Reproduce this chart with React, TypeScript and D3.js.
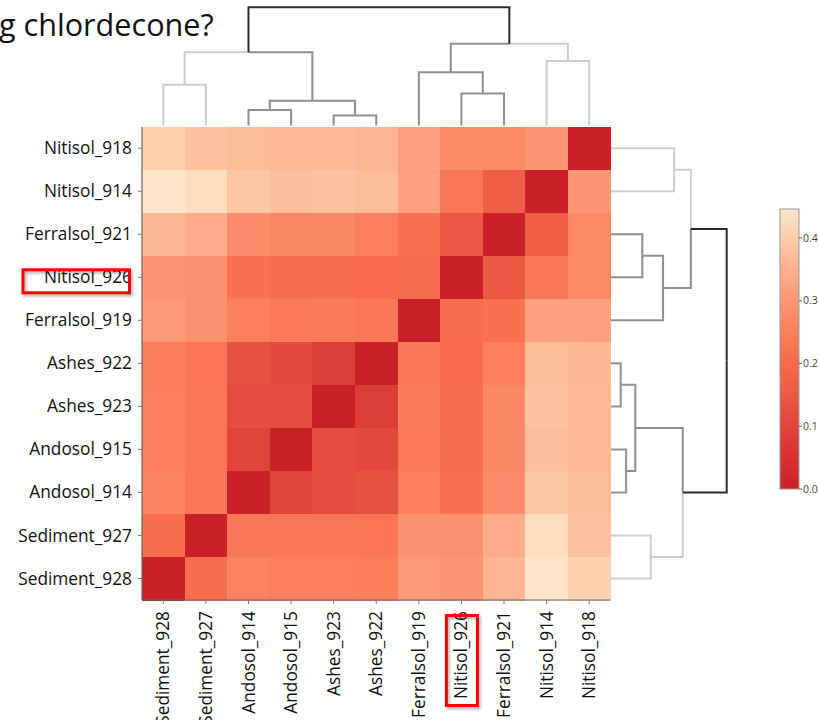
import React from "react";
import * as d3 from "d3";

// ---------- DATA ----------
const rowLabels = [
  "Nitisol_918", "Nitisol_914", "Ferralsol_921", "Nitisol_926", "Ferralsol_919",
  "Ashes_922", "Ashes_923", "Andosol_915", "Andosol_914", "Sediment_927", "Sediment_928",
];
const colLabels = [
  "Sediment_928", "Sediment_927", "Andosol_914", "Andosol_915", "Ashes_923", "Ashes_922",
  "Ferralsol_919", "Nitisol_926", "Ferralsol_921", "Nitisol_914", "Nitisol_918",
];
// distance matrix, rows & columns in colLabels order
const distS928 = [0, 0.21, 0.26, 0.25, 0.25, 0.245, 0.31, 0.3, 0.36, 0.445, 0.41];
const distS927 = [0.21, 0, 0.23, 0.23, 0.23, 0.225, 0.29, 0.29, 0.34, 0.43, 0.38];
const distA914 = [0.26, 0.23, 0, 0.1, 0.12, 0.13, 0.25, 0.22, 0.28, 0.39, 0.37];
const distA915 = [0.25, 0.23, 0.1, 0, 0.12, 0.11, 0.235, 0.21, 0.265, 0.375, 0.365];
const distAsh923 = [0.25, 0.23, 0.12, 0.12, 0, 0.08, 0.24, 0.21, 0.27, 0.38, 0.365];
const distAsh922 = [0.245, 0.225, 0.13, 0.11, 0.08, 0, 0.23, 0.205, 0.25, 0.37, 0.36];
const distF919 = [0.31, 0.29, 0.25, 0.235, 0.24, 0.23, 0, 0.21, 0.22, 0.32, 0.32];
const distN926 = [0.3, 0.29, 0.22, 0.21, 0.21, 0.205, 0.21, 0, 0.15, 0.23, 0.275];
const distF921 = [0.36, 0.34, 0.28, 0.265, 0.27, 0.25, 0.22, 0.15, 0, 0.165, 0.275];
const distN914 = [0.445, 0.43, 0.39, 0.375, 0.38, 0.37, 0.32, 0.23, 0.165, 0, 0.3];
const distN918 = [0.41, 0.38, 0.37, 0.365, 0.365, 0.36, 0.32, 0.275, 0.275, 0.3, 0];
const distRows = [distS928, distS927, distA914, distA915, distAsh923, distAsh922, distF919, distN926, distF921, distN914, distN918];

// linkage (scipy style: leaves 0..10 in colLabels order, clusters 11..)
const mergeLeft = [4, 2, 12, 7, 0, 6, 9, 15, 16, 18];
const mergeRight = [5, 3, 11, 8, 1, 14, 10, 13, 17, 19];
const mergeHeight = [0.084, 0.131, 0.21, 0.271, 0.344, 0.45, 0.546, 0.62, 0.69, 1.0];

const colorbarTicks = [0, 0.1, 0.2, 0.3, 0.4];
const colorMax = 0.446;
const titleText = "g chlordecone?";
const highlighted = "Nitisol_926";

// ---------- STYLE / LAYOUT ----------
const W = 819, H = 720;
const hm = { x0: 142, x1: 610.5, y0: 126.7, y1: 600 };
const cmapDomain = [0, 0.075, 0.15, 0.2, 0.25, 0.3, 0.35, 0.4, 0.446];
const cmapRange = ["#cb2027", "#db3b34", "#ec5a44", "#f66a4c", "#fb7f5c", "#fc9572", "#fdb08e", "#fdcca8", "#fee5cb"];
const color = d3.scaleLinear<string>().domain(cmapDomain).range(cmapRange).interpolate(d3.interpolateRgb).clamp(true);
const LIGHT = "#cdcdcd", MED = "#8e8e8e", ROOT = "#2b2b2b";
const FONT = "'Open Sans', sans-serif";
const LABEL_SIZE = 17.3;

type Seg = { d: string; c: string };

function buildDendro(posOfLeaf: (i: number) => number, hToPix: (h: number) => number, horizontal: boolean): Seg[] {
  const n = colLabels.length;
  const pos: number[] = [];
  const ht: number[] = [];
  for (let i = 0; i < n; i++) { pos[i] = posOfLeaf(i); ht[i] = 0; }
  const cut = 0.6;
  const leavesOf: number[][] = [];
  for (let i = 0; i < n; i++) leavesOf[i] = [i];
  mergeLeft.forEach((a, k) => {
    const b = mergeRight[k];
    const id = n + k;
    pos[id] = (pos[a] + pos[b]) / 2;
    ht[id] = mergeHeight[k];
    leavesOf[id] = leavesOf[a].concat(leavesOf[b]);
  });
  const tops: number[] = [];
  for (let id = n + mergeLeft.length - 1; id >= 0; id--) {
    if (ht[id] < cut && !tops.some((t) => leavesOf[t].includes(leavesOf[id][0]))) tops.push(id);
  }
  tops.sort((p, q) => Math.min(...leavesOf[p]) - Math.min(...leavesOf[q]));
  const shades = [LIGHT, MED, MED, LIGHT];
  const shadeOf = (id: number) => {
    const t = tops.findIndex((tt) => leavesOf[tt].includes(leavesOf[id][0]));
    return shades[t % shades.length];
  };
  const segs: Seg[] = [];
  const pt = (p: number, h: number) => (horizontal ? `${hToPix(h)},${p}` : `${p},${hToPix(h)}`);
  mergeLeft.forEach((a, k) => {
    const b = mergeRight[k];
    const id = n + k;
    const h = ht[id];
    const mid = pos[id];
    const isRoot = k === mergeLeft.length - 1;
    [a, b].forEach((ch) => {
      segs.push({
        d: `M${pt(pos[ch], ht[ch])}L${pt(pos[ch], h)}L${pt(mid, h)}`,
        c: isRoot ? ROOT : shadeOf(ch),
      });
    });
  });
  return segs;
}

export default function App() {
  const x = d3.scaleBand<string>().domain(colLabels).range([hm.x0, hm.x1]);
  const y = d3.scaleBand<string>().domain(rowLabels).range([hm.y0, hm.y1]);
  const idx = (l: string) => colLabels.indexOf(l);

  const topSegs = buildDendro(
    (i) => (x(colLabels[i]) as number) + x.bandwidth() / 2,
    (h) => 125.5 - h * 118.3,
    false
  );
  const rightSegs = buildDendro(
    (i) => (y(colLabels[i]) as number) + y.bandwidth() / 2,
    (h) => 611 + h * 115.7,
    true
  );

  const cb = { x: 780, w: 19, y0: 209, y1: 489 };
  const cbScale = d3.scaleLinear().domain([0, colorMax]).range([cb.y1, cb.y0]);
  const gradStops = d3.range(0, 1.0001, 0.05);

  const hlRowY = (y(highlighted) as number) + y.bandwidth() / 2;
  const hlColX = (x(highlighted) as number) + x.bandwidth() / 2;

  return (
    <svg width={W} height={H} style={{ position: "absolute", left: 0, top: 0, background: "#fff" }} fontFamily={FONT}>
      <defs>
        <linearGradient id="cbgrad" x1="0" y1="1" x2="0" y2="0">
          {gradStops.map((t) => (
            <stop key={t} offset={t} stopColor={color(t * colorMax)} />
          ))}
        </linearGradient>
        <filter id="shadow" x="-20%" y="-20%" width="140%" height="140%">
          <feDropShadow dx="1.5" dy="2" stdDeviation="1.5" floodColor="#000" floodOpacity="0.35" />
        </filter>
      </defs>
      <rect x={0} y={0} width={W} height={H} fill="#fff" />

      {/* title */}
      <text x={-1} y={36} fontSize={30.6} fill="#111">{titleText}</text>

      {/* heatmap cells */}
      <g shapeRendering="crispEdges">
        {rowLabels.map((r) =>
          colLabels.map((c) => {
            const v = distRows[idx(r)][idx(c)];
            return (
              <rect key={r + c} x={x(c)} y={y(r)} width={x.bandwidth() + 0.5} height={y.bandwidth() + 0.5}
                fill={color(v)} />
            );
          })
        )}
      </g>

      {/* axes */}
      <line x1={hm.x0} x2={hm.x0} y1={hm.y0} y2={hm.y1} stroke="#666" strokeWidth={1.2} />
      <line x1={hm.x0} x2={hm.x1} y1={hm.y1} y2={hm.y1} stroke="#666" strokeWidth={1.2} />
      {rowLabels.map((r) => {
        const cy = (y(r) as number) + y.bandwidth() / 2;
        return (
          <g key={r}>
            <line x1={hm.x0 - 4} x2={hm.x0} y1={cy} y2={cy} stroke="#777" />
            <text x={132} y={cy} dy="0.35em" textAnchor="end" fontSize={LABEL_SIZE} fill="#111">{r}</text>
          </g>
        );
      })}
      {colLabels.map((c) => {
        const cx = (x(c) as number) + x.bandwidth() / 2;
        return (
          <g key={c}>
            <line x1={cx} x2={cx} y1={hm.y1} y2={hm.y1 + 4} stroke="#777" />
            <text transform={`translate(${cx},611) rotate(-90)`} dy="0.35em" textAnchor="end" fontSize={LABEL_SIZE} fill="#111">{c}</text>
          </g>
        );
      })}

      {/* dendrograms */}
      <g fill="none" strokeWidth={2}>
        {topSegs.map((s, i) => <path key={"t" + i} d={s.d} stroke={s.c} />)}
        {rightSegs.map((s, i) => <path key={"r" + i} d={s.d} stroke={s.c} />)}
      </g>

      {/* colorbar */}
      <rect x={cb.x} y={cb.y0} width={cb.w} height={cb.y1 - cb.y0} fill="url(#cbgrad)" stroke="#999" strokeWidth={1} />
      {colorbarTicks.map((t) => (
        <g key={t}>
          <line x1={cb.x + cb.w} x2={cb.x + cb.w + 3} y1={cbScale(t)} y2={cbScale(t)} stroke="#666" />
          <text x={cb.x + cb.w + 4} y={cbScale(t)} dy="0.35em" fontSize={10.5} fill="#444">{t.toFixed(1)}</text>
        </g>
      ))}

      {/* highlight boxes */}
      <g fill="none" stroke="#f00" strokeWidth={3} filter="url(#shadow)">
        <rect x={23} y={hlRowY - 7.5} width={106.5} height={23} />
        <rect x={hlColX - 15} y={615.5} width={31} height={90} />
      </g>
    </svg>
  );
}
